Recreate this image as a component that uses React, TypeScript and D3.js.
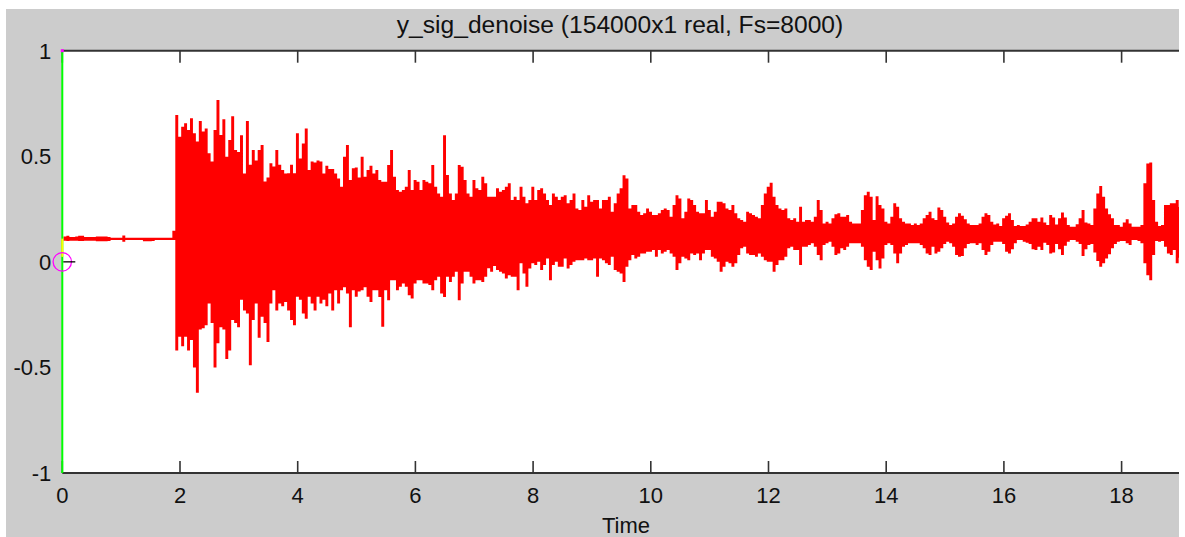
import React from "react";
import * as d3 from "d3";

// Signal description
const SIGNAL_NAME = "y_sig_denoise";
const SAMPLE_COUNT = 154000;
const SAMPLE_RATE = 8000;

// Peak envelope of the signal, one frame every 50 ms starting at t = 0.02 s
const FRAME_T0 = 0.02;
const FRAME_STEP = 0.05;

// quiet lead-in (0.02 s .. 1.92 s)
const quietUpper = [
  0.12, 0.124, 0.118, 0.118, 0.12, 0.124, 0.124, 0.118, 0.118, 0.118, 0.118, 0.12, 0.12, 0.12, 0.12, 0.118,
  0.114, 0.114, 0.114, 0.114, 0.125,
  0.114, 0.114, 0.114, 0.114, 0.114, 0.114, 0.114, 0.114, 0.114, 0.114, 0.114, 0.114, 0.114, 0.114, 0.114, 0.114,
  0.147,
];
const quietLower = [
  0.1, 0.099, 0.1, 0.1, 0.1, 0.099, 0.099, 0.1, 0.1, 0.1, 0.1, 0.098, 0.098, 0.098, 0.098, 0.099,
  0.103, 0.103, 0.103, 0.103, 0.095,
  0.103, 0.103, 0.103, 0.103, 0.103, 0.103, 0.097, 0.097, 0.097, 0.099, 0.103, 0.103, 0.103, 0.103, 0.103, 0.103,
  0.103,
];

// decaying burst (1.92 s .. 19.27 s)
const burstUpper = [
  0.695, 0.593, 0.64, 0.656, 0.624, 0.68, 0.609, 0.57, 0.667, 0.617, 0.632, 0.514, 0.475, 0.624, 0.766, 0.601,
  0.675, 0.498, 0.577, 0.69, 0.53, 0.52, 0.6, 0.419, 0.667, 0.46, 0.53, 0.48, 0.53, 0.553, 0.38, 0.4,
  0.467, 0.451, 0.53, 0.46, 0.435, 0.419, 0.42, 0.46, 0.42, 0.609, 0.49, 0.561, 0.632, 0.435, 0.475, 0.47,
  0.48, 0.475, 0.419, 0.455, 0.44, 0.44, 0.419, 0.395, 0.356, 0.498, 0.553, 0.388, 0.443, 0.447, 0.4, 0.498,
  0.403, 0.435, 0.455, 0.419,
  0.435, 0.388, 0.379, 0.379, 0.459, 0.53, 0.403, 0.34, 0.332, 0.34, 0.356, 0.435, 0.34, 0.388, 0.379, 0.34,
  0.388, 0.379, 0.372, 0.459, 0.356, 0.324, 0.308, 0.6, 0.411, 0.324, 0.293, 0.324, 0.459, 0.45, 0.388, 0.324,
  0.308, 0.388, 0.348, 0.34, 0.403, 0.372, 0.308, 0.308, 0.308, 0.348, 0.332, 0.34, 0.356, 0.372, 0.293, 0.308,
  0.293, 0.356, 0.308, 0.277, 0.293, 0.356, 0.293, 0.34, 0.348, 0.324, 0.293, 0.269, 0.324, 0.308, 0.293, 0.308,
  0.316, 0.277, 0.293, 0.324, 0.253, 0.245,
  0.293, 0.261, 0.316, 0.285, 0.293, 0.293, 0.253, 0.293, 0.293, 0.308, 0.237, 0.277, 0.324, 0.348, 0.41, 0.395,
  0.253, 0.269, 0.269, 0.237, 0.222, 0.23, 0.253, 0.237, 0.222, 0.222, 0.23, 0.245, 0.253, 0.245, 0.214, 0.269,
  0.316, 0.3, 0.206, 0.237, 0.3, 0.293, 0.269, 0.237, 0.23, 0.23, 0.293, 0.245, 0.214, 0.237, 0.285, 0.285,
  0.277, 0.253, 0.245, 0.269, 0.23, 0.206, 0.198, 0.19, 0.237, 0.23, 0.222, 0.214, 0.206, 0.269, 0.324, 0.356,
  0.375, 0.308, 0.269, 0.253, 0.245, 0.253,
  0.206, 0.198, 0.206, 0.19, 0.261, 0.19, 0.198, 0.198, 0.19, 0.214, 0.293, 0.245, 0.182, 0.19, 0.182, 0.206,
  0.226, 0.23, 0.214, 0.214, 0.222, 0.19, 0.182, 0.182, 0.182, 0.245, 0.316, 0.332, 0.308, 0.198, 0.311, 0.269,
  0.253, 0.19, 0.182, 0.214, 0.277, 0.261, 0.206, 0.19, 0.182, 0.182, 0.174, 0.182, 0.174, 0.182, 0.206, 0.222,
  0.237, 0.206, 0.198, 0.257, 0.245, 0.214, 0.186, 0.174, 0.182, 0.214, 0.23, 0.218, 0.202, 0.182, 0.174, 0.174,
  0.174, 0.182, 0.214, 0.23, 0.222,
  0.19, 0.177, 0.182, 0.17, 0.206, 0.218, 0.23, 0.198, 0.17, 0.174, 0.17, 0.17, 0.177, 0.19, 0.206, 0.206,
  0.19, 0.21, 0.186, 0.174, 0.222, 0.21, 0.177, 0.206, 0.234, 0.21, 0.174, 0.166, 0.166, 0.178, 0.206, 0.245,
  0.186, 0.182, 0.174, 0.253, 0.324, 0.359, 0.308, 0.253, 0.226, 0.206, 0.174, 0.174, 0.166, 0.186, 0.202, 0.182,
  0.166, 0.166, 0.166, 0.174, 0.372, 0.466, 0.47, 0.293, 0.19, 0.17, 0.174, 0.269, 0.269, 0.277, 0.277, 0.293,
  0.26, 0.24, 0.27, 0.25, 0.23, 0.22,
];
const burstLower = [
  -0.42, -0.355, -0.4, -0.355, -0.42, -0.37, -0.5, -0.62, -0.32, -0.315, -0.3, -0.197, -0.29, -0.5, -0.386, -0.31,
  -0.32, -0.46, -0.42, -0.275, -0.29, -0.31, -0.18, -0.23, -0.245, -0.49, -0.275, -0.197, -0.36, -0.26, -0.29, -0.38,
  -0.197, -0.134, -0.23, -0.197, -0.21, -0.19, -0.23, -0.275, -0.3, -0.165, -0.18, -0.245, -0.27, -0.165, -0.197, -0.23,
  -0.165, -0.197, -0.18, -0.21, -0.15, -0.23, -0.134, -0.197, -0.134, -0.12, -0.15, -0.31, -0.134, -0.165, -0.14, -0.134,
  -0.12, -0.165, -0.19, -0.134,
  -0.134, -0.166, -0.307, -0.134, -0.182, -0.087, -0.087, -0.134, -0.118, -0.102, -0.118, -0.158, -0.174, -0.102, -0.087, -0.087,
  -0.102, -0.102, -0.11, -0.134, -0.087, -0.071, -0.15, -0.166, -0.071, -0.095, -0.071, -0.047, -0.182, -0.102, -0.047, -0.047,
  -0.071, -0.102, -0.087, -0.087, -0.095, -0.071, -0.03, -0.047, -0.02, -0.039, -0.047, -0.055, -0.079, -0.063, -0.071, -0.071,
  -0.134, -0.007, -0.055, -0.118, -0.031, -0.007, -0.015, 0.0, -0.039, -0.015, 0.016, -0.087, -0.015, 0.0, -0.023, -0.023,
  0.016, -0.031, -0.015, 0.0, 0.008, 0.008,
  0.008, 0.016, 0.008, 0.008, 0.016, -0.071, 0.016, 0.008, -0.007, -0.015, 0.024, -0.039, -0.047, -0.055, -0.095, -0.023,
  0.008, 0.032, 0.016, 0.024, 0.04, 0.04, 0.048, 0.048, 0.056, 0.024, 0.056, 0.04, 0.048, 0.056, 0.04, 0.024,
  -0.039, -0.007, 0.024, 0.016, 0.008, 0.04, 0.032, 0.04, 0.008, 0.04, 0.056, 0.056, 0.024, 0.016, 0.0, -0.047,
  -0.023, 0.0, -0.007, -0.023, -0.007, 0.032, 0.064, 0.072, 0.04, 0.032, 0.032, 0.024, 0.04, 0.024, 0.008, 0.0,
  0.0, -0.047, -0.015, 0.008, 0.008, 0.024,
  0.064, 0.072, 0.056, 0.056, -0.015, 0.072, 0.072, 0.08, 0.088, 0.072, 0.032, 0.008, 0.08, 0.088, 0.095, 0.072,
  0.032, 0.04, 0.064, 0.056, 0.072, 0.088, 0.088, 0.088, 0.088, 0.072, 0.008, -0.023, -0.039, 0.048, 0.008, -0.031,
  0.016, 0.08, 0.088, 0.08, 0.04, -0.007, 0.04, 0.072, 0.08, 0.088, 0.088, 0.088, 0.088, 0.08, 0.064, 0.04,
  0.032, 0.072, 0.04, 0.048, 0.064, 0.084, 0.095, 0.088, 0.072, 0.032, 0.024, 0.028, 0.064, 0.084, 0.088, 0.088,
  0.08, 0.088, 0.056, 0.032, 0.048,
  0.08, 0.095, 0.095, 0.095, 0.084, 0.048, 0.04, 0.06, 0.088, 0.103, 0.103, 0.095, 0.09, 0.084, 0.06, 0.056,
  0.072, 0.056, 0.09, 0.08, 0.04, 0.044, 0.084, 0.06, 0.032, 0.076, 0.095, 0.103, 0.103, 0.095, 0.084, 0.028,
  0.06, 0.08, 0.084, 0.044, 0.004, -0.023, -0.007, 0.016, 0.036, 0.064, 0.084, 0.095, 0.099, 0.099, 0.088, 0.08,
  0.103, 0.103, 0.099, 0.088, -0.007, -0.063, -0.087, 0.032, 0.099, 0.095, 0.099, 0.072, 0.04, 0.032, 0.056, -0.007,
  0.02, 0.04, 0.01, 0.03, 0.05, 0.06,
];

const envUpper = [...quietUpper, ...burstUpper];
const envLower = [...quietLower, ...burstLower];

// Cursor markers at the start of the signal
const cursorTime = 0;
const cursorLevel = 0;
const firstSampleLevel = 0.11;

const yTickValues = [-1, -0.5, 0, 0.5, 1];

// Layout
const W = 1185;
const H = 537;
const FIG = { left: 6, top: 9, right: 1179, bottom: H };
const AX = { left: 62.3, top: 50.7, bottom: 473, pxPerSecond: 58.85 };
const FONT = "'Liberation Sans', Arial, Helvetica, sans-serif";
const TICK_FS = 22;

type Frame = { t: number; hi: number; lo: number };

export default function App() {
  const duration = SAMPLE_COUNT / SAMPLE_RATE;
  const x = d3
    .scaleLinear()
    .domain([0, duration])
    .range([AX.left, AX.left + duration * AX.pxPerSecond]);
  const y = d3.scaleLinear().domain([-1, 1]).range([AX.bottom, AX.top]);

  const frames: Frame[] = envUpper.map((hi, i) => ({
    t: FRAME_T0 + i * FRAME_STEP,
    hi,
    lo: envLower[i],
  }));
  const last = frames[frames.length - 1];
  frames.push({ t: last.t + FRAME_STEP, hi: last.hi, lo: last.lo });

  const area = d3
    .area<Frame>()
    .x((d) => x(d.t))
    .y0((d) => y(d.lo))
    .y1((d) => y(d.hi))
    .curve(d3.curveStepAfter);

  const xTicks = x.ticks(10);
  const [xr0, xr1] = x.range();
  const axisColor = "#333333";
  const textColor = "#111111";

  return (
    <svg
      width={W}
      height={H}
      viewBox={`0 0 ${W} ${H}`}
      style={{ position: "absolute", left: 0, top: 0, display: "block", background: "#ffffff" }}
    >
      <defs>
        <clipPath id="figClip">
          <rect x={0} y={0} width={FIG.right} height={H} />
        </clipPath>
        <clipPath id="plotClip">
          <rect x={AX.left} y={AX.top} width={FIG.right - AX.left} height={AX.bottom - AX.top} />
        </clipPath>
      </defs>

      <rect
        x={FIG.left}
        y={FIG.top}
        width={FIG.right - FIG.left}
        height={FIG.bottom - FIG.top}
        fill="#cccccc"
      />

      <g clipPath="url(#figClip)">
        <rect x={xr0} y={AX.top} width={xr1 - xr0} height={AX.bottom - AX.top} fill="#ffffff" />

        <g clipPath="url(#plotClip)">
          <path d={area(frames) || ""} fill="#ff0000" />
        </g>

        {/* frame lines */}
        <line x1={xr0} x2={xr1} y1={AX.top} y2={AX.top} stroke={axisColor} strokeWidth={2} />
        <line x1={xr0} x2={xr1} y1={AX.bottom} y2={AX.bottom} stroke={axisColor} strokeWidth={2} />

        {xTicks.map((v) => (
          <g key={`xt${v}`}>
            <line x1={x(v)} x2={x(v)} y1={AX.top} y2={AX.top + 12} stroke={axisColor} strokeWidth={1.6} />
            <line x1={x(v)} x2={x(v)} y1={AX.bottom} y2={AX.bottom - 12} stroke={axisColor} strokeWidth={1.6} />
            <text
              x={x(v)}
              y={AX.bottom + 30}
              textAnchor="middle"
              fontFamily={FONT}
              fontSize={TICK_FS}
              fill={textColor}
            >
              {String(v)}
            </text>
          </g>
        ))}

        {yTickValues.map((v) => (
          <text
            key={`yt${v}`}
            x={AX.left - 11}
            y={y(v) + 8}
            textAnchor="end"
            fontFamily={FONT}
            fontSize={TICK_FS}
            fill={textColor}
          >
            {String(v)}
          </text>
        ))}

        {/* cursor markers */}
        <line x1={x(cursorTime)} x2={x(cursorTime)} y1={AX.top} y2={AX.bottom} stroke="#00ff00" strokeWidth={2} />
        <line
          x1={x(cursorTime)}
          x2={x(cursorTime)}
          y1={y(firstSampleLevel)}
          y2={y(cursorLevel) - 5}
          stroke="#ffff00"
          strokeWidth={2}
        />
        <rect x={x(cursorTime) - 1.5} y={AX.top - 1.5} width={3} height={3} fill="#ff00ff" />
        <circle cx={x(cursorTime)} cy={y(cursorLevel)} r={9.2} fill="none" stroke="#ff00ff" strokeWidth={1.3} />
        <line
          x1={x(cursorTime) + 1}
          x2={x(cursorTime) + 13}
          y1={y(cursorLevel)}
          y2={y(cursorLevel)}
          stroke="#000000"
          strokeWidth={1.3}
        />

        <text
          x={620}
          y={33}
          textAnchor="middle"
          fontFamily={FONT}
          fontSize={24.6}
          fill={textColor}
        >
          {`${SIGNAL_NAME} (${SAMPLE_COUNT}x1 real, Fs=${SAMPLE_RATE})`}
        </text>
        <text x={626} y={533} textAnchor="middle" fontFamily={FONT} fontSize={22} fill={textColor}>
          Time
        </text>
      </g>
    </svg>
  );
}
